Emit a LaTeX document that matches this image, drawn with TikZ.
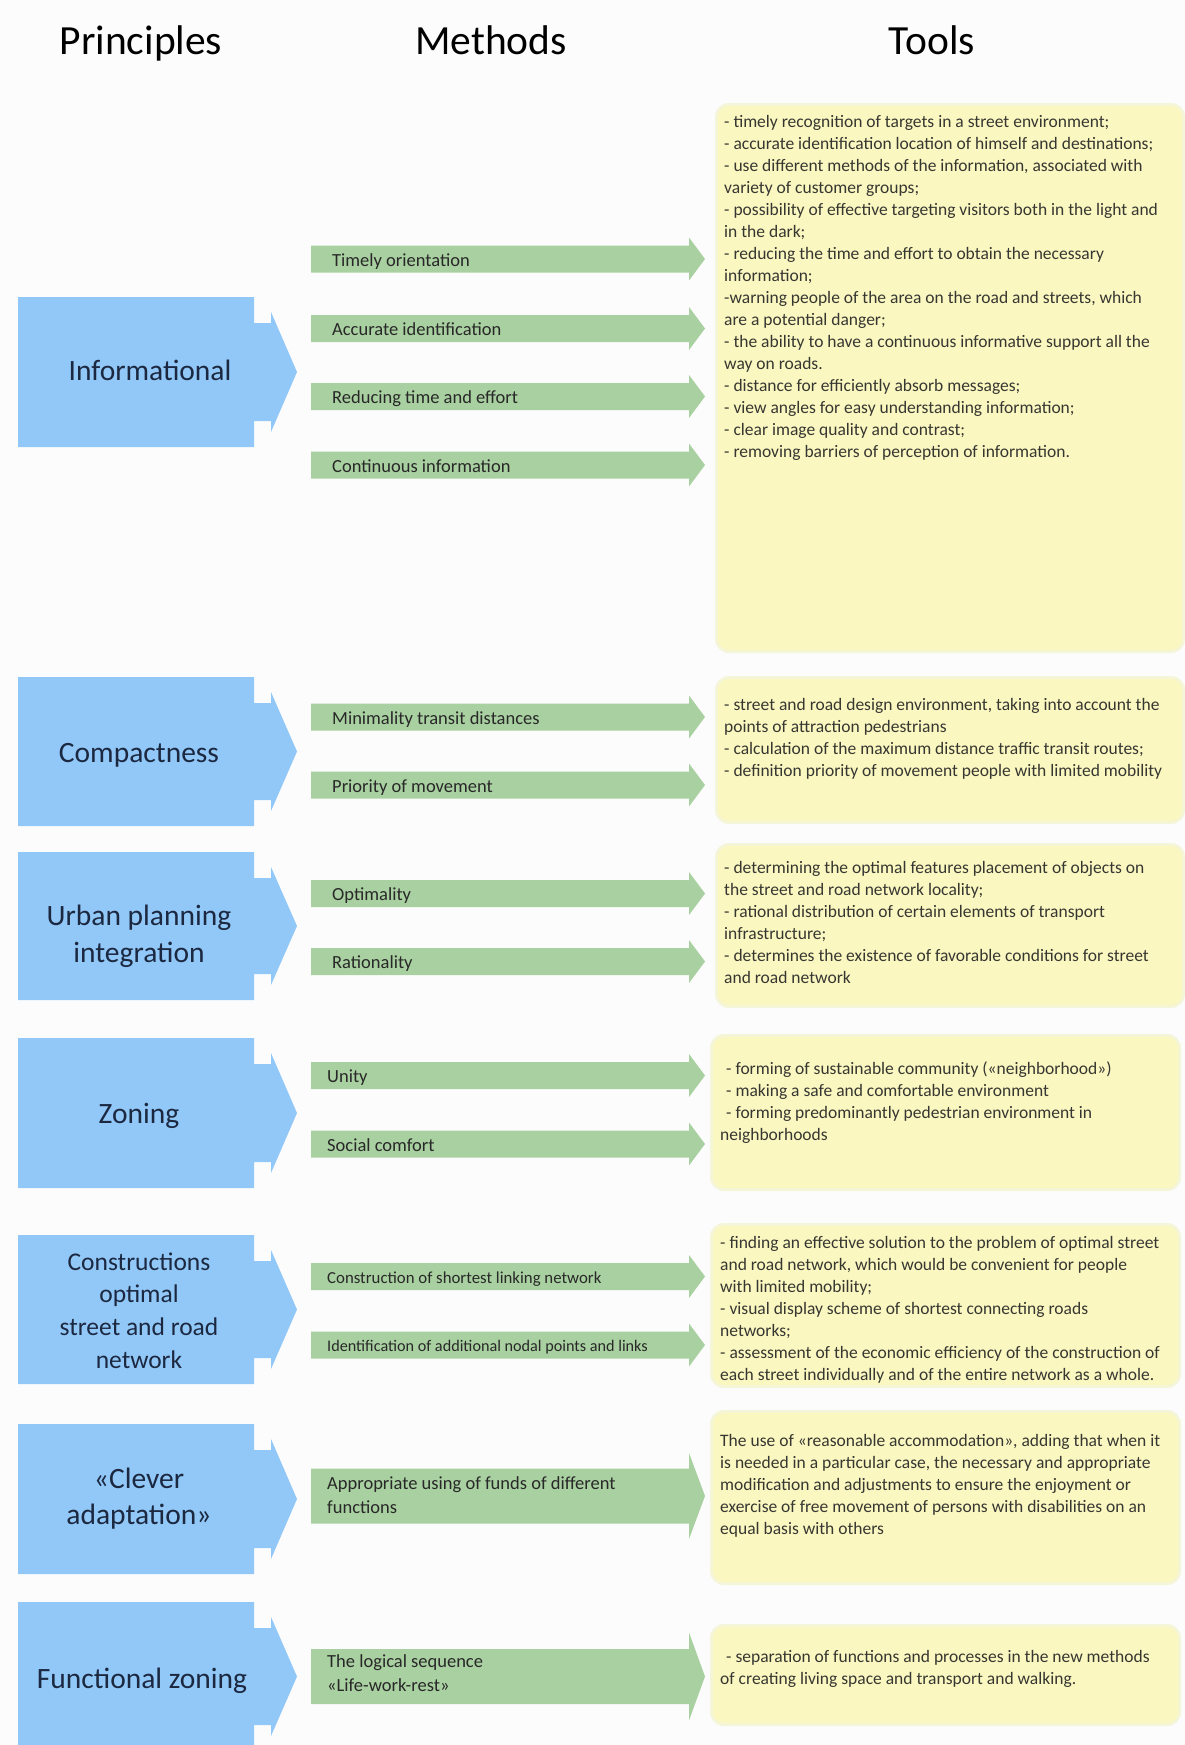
\documentclass[tikz,border=0pt]{standalone}
\usepackage{fontspec}
\setmainfont{Carlito}
\definecolor{bfill}{RGB}{145,200,248}
\definecolor{gfill}{RGB}{169,208,160}
\definecolor{yfill}{RGB}{250,247,192}
\definecolor{yglow}{RGB}{245,245,215}
\definecolor{navytxt}{RGB}{28,40,64}
\definecolor{mtxt}{RGB}{40,40,40}
\definecolor{ttxt}{RGB}{55,55,50}
\definecolor{bgcol}{RGB}{252,252,252}
% blue principle arrow: top, bottom
\newcommand\PrShape[2]{%
  \fill[bfill] (18,#1) -- (254,#1) -- (254,#1+26) -- (271,#1+26) -- (271,#1+15)
    -- (297,{(#1+#2)/2}) -- (271,#2-15) -- (271,#2-26) -- (254,#2-26) -- (254,#2)
    -- (18,#2) -- cycle;}
% green method arrow: y centre, shaft half height, head half height
\newcommand\MeArrow[3]{%
  \fill[gfill] (311,#1-#2) -- (689,#1-#2) -- (689,#1-#3) -- (705,#1)
    -- (689,#1+#3) -- (689,#1+#2) -- (311,#1+#2) -- cycle;}
% yellow tool box: name, left, top, right, bottom
\newcommand\ToolBox[5]{%
  \fill[yglow, rounded corners=14pt] (#2-3,#3-3) rectangle (#4+3,#5+3);
  \node[ybox, anchor=north west, minimum width={#4-#2}, minimum height={#5-#3}] (#1) at (#2,#3) {};}
\begin{document}
\begin{tikzpicture}[x=1pt,y=-1pt,
  headtxt/.style={font=\fontsize{41.5}{50}\selectfont, text=black, anchor=base, inner sep=0pt},
  ptext/.style={font=\fontsize{29.5}{37}\selectfont, text=navytxt, anchor=base, inner sep=0pt},
  pmulti/.style={font=\fontsize{29.5}{37}\selectfont, text=navytxt, anchor=north, align=center, inner sep=0pt},
  mlab/.style={font=\fontsize{18.5}{24.5}\selectfont, text=mtxt, anchor=base west, inner sep=0pt},
  mmulti/.style={font=\fontsize{18.5}{24.5}\selectfont, text=mtxt, anchor=north west, align=left, inner sep=0pt},
  ttext/.style={font=\fontsize{17.5}{22}\selectfont, text=ttxt, anchor=north west, align=left, inner sep=0pt},
  ybox/.style={fill=yfill, rounded corners=11pt, inner sep=0pt, outer sep=0pt}
]
\clip (0,0) rectangle (1185,1745);
\fill[bgcol] (0,0) rectangle (1185,1745);

% column headings
\node[headtxt] (hP) at (141,55) {Principles};
\node[headtxt] (hM) at (491,55) {Methods};
\node[headtxt] (hT) at (932,55) {Tools};

% principles
\PrShape{297}{447}
\node[ptext] (p1) at (150,380) {Informational};
\PrShape{677}{826}
\node[ptext] (p2) at (139,762) {Compactness};
\PrShape{852}{1000}
\node[pmulti] (p3) at (139,903) {\rule{0pt}{22pt}Urban planning\\integration};
\PrShape{1038}{1188}
\node[ptext] (p4) at (139,1123) {Zoning};
\PrShape{1235}{1384}
\node[pmulti, font=\fontsize{25.5}{32.7}\selectfont] (p5) at (139,1251) {\rule{0pt}{19pt}Constructions\\optimal\\street and road\\network};
\PrShape{1424}{1574}
\node[pmulti, font=\fontsize{29.5}{36.5}\selectfont] (p6) at (139,1466) {\rule{0pt}{22pt}«Clever\\adaptation»};
\PrShape{1602}{1751}
\node[ptext] (p7) at (142,1688) {Functional zoning};

% methods
\MeArrow{259}{13.5}{21.5}
\node[mlab] (m11) at (332,266) {Timely orientation};
\MeArrow{328.5}{13.5}{21.5}
\node[mlab] (m12) at (332,335.5) {Accurate identification};
\MeArrow{396.5}{13.5}{21.5}
\node[mlab] (m13) at (332,403.5) {Reducing time and effort};
\MeArrow{465}{13.5}{21.5}
\node[mlab] (m14) at (332,472) {Continuous information};

\MeArrow{717}{13.5}{21.5}
\node[mlab] (m21) at (332,724) {Minimality transit distances};
\MeArrow{785}{13.5}{21.5}
\node[mlab] (m22) at (332,792) {Priority of movement};

\MeArrow{893.5}{13.5}{21.5}
\node[mlab] (m31) at (332,900.5) {Optimality};
\MeArrow{961.5}{13.5}{21.5}
\node[mlab] (m32) at (332,968.5) {Rationality};

\MeArrow{1075.5}{13.5}{21.5}
\node[mlab] (m41) at (327,1082.5) {Unity};
\MeArrow{1144}{13.5}{21.5}
\node[mlab] (m42) at (327,1151) {Social comfort};

\MeArrow{1276.5}{13.5}{21.5}
\node[mlab, font=\fontsize{16.8}{20}\selectfont] (m51) at (327,1283) {Construction of shortest linking network};
\MeArrow{1345}{13.5}{21.5}
\node[mlab, font=\fontsize{16.2}{20}\selectfont] (m52) at (327,1351.5) {Identification of additional nodal points and links};

\MeArrow{1496}{27.5}{43}
\node[mmulti] (m61) at (327,1475) {\rule{0pt}{14pt}Appropriate using of funds of different\\functions};
\MeArrow{1676.5}{27.5}{44}
\node[mmulti] (m71) at (327,1653) {\rule{0pt}{14pt}The logical sequence\\«Life-work-rest»};

% tools
\ToolBox{t1}{718}{106}{1182}{650}
\node[ttext] (t1x) at (724,114) {\rule{0pt}{13.5pt}- timely recognition of targets in a street environment;\\
- accurate identification location of himself and destinations;\\
- use different methods of the information, associated with\\
variety of customer groups;\\
- possibility of effective targeting visitors both in the light and\\
in the dark;\\
- reducing the time and effort to obtain the necessary\\
information;\\
-warning people of the area on the road and streets, which\\
are a potential danger;\\
- the ability to have a continuous informative support all the\\
way on roads.\\
- distance for efficiently absorb messages;\\
- view angles for easy understanding information;\\
- clear image quality and contrast;\\
- removing barriers of perception of information.};

\ToolBox{t2}{718}{679}{1182}{821}
\node[ttext] (t2x) at (724,696.5) {\rule{0pt}{13.5pt}- street and road design environment, taking into account the\\
points of attraction pedestrians\\
- calculation of the maximum distance traffic transit routes;\\
- definition priority of movement people with limited mobility};

\ToolBox{t3}{718}{846}{1182}{1005}
\node[ttext] (t3x) at (724,859.5) {\rule{0pt}{13.5pt}- determining the optimal features placement of objects on\\
the street and road network locality;\\
- rational distribution of certain elements of transport\\
infrastructure;\\
- determines the existence of favorable conditions for street\\
and road network};

\ToolBox{t4}{713}{1037}{1178}{1188}
\node[ttext] (t4x) at (720,1061) {\rule{0pt}{13.5pt}\hspace*{6pt}- forming of sustainable community («neighborhood»)\\
\hspace*{6pt}- making a safe and comfortable environment\\
\hspace*{6pt}- forming predominantly pedestrian environment in\\
neighborhoods};

\ToolBox{t5}{713}{1226}{1178}{1385}
\node[ttext] (t5x) at (720,1234.5) {\rule{0pt}{13.5pt}- finding an effective solution to the problem of optimal street\\
and road network, which would be convenient for people\\
with limited mobility;\\
- visual display scheme of shortest connecting roads\\
networks;\\
- assessment of the economic efficiency of the construction of\\
each street individually and of the entire network as a whole.};

\ToolBox{t6}{713}{1413}{1178}{1582}
\node[ttext] (t6x) at (720,1432.5) {\rule{0pt}{13.5pt}The use of «reasonable accommodation», adding that when it\\
is needed in a particular case, the necessary and appropriate\\
modification and adjustments to ensure the enjoyment or\\
exercise of free movement of persons with disabilities on an\\
equal basis with others};

\ToolBox{t7}{713}{1627}{1178}{1723}
\node[ttext] (t7x) at (720,1648.5) {\rule{0pt}{13.5pt}\hspace*{6pt}- separation of functions and processes in the new methods\\
of creating living space and transport and walking.};
\end{tikzpicture}
\end{document}
